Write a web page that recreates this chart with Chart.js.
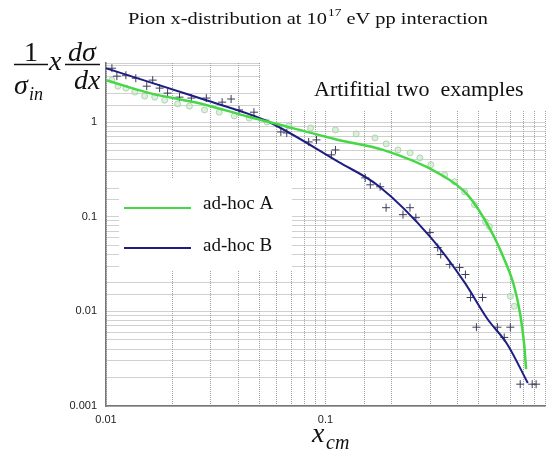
<!DOCTYPE html>
<html>
<head>
<meta charset="utf-8">
<script src="https://cdn.jsdelivr.net/npm/chart.js@4/dist/chart.umd.min.js"></script>
<style>
  html, body { margin: 0; padding: 0; background: #fff; }
  #chartContainer { width: 552px; height: 457px; }
</style>
</head>
<body>
<div id="chartContainer"><canvas id="main-chart" width="552" height="457"></canvas></div>
<script>
// fitted curves
const adhocAX = [0.01, 0.0158, 0.0266, 0.0449, 0.0553, 0.1145, 0.183, 0.325, 0.444, 0.5636, 0.6527, 0.724, 0.771, 0.8035, 0.82]
const adhocAY = [2.77, 2.02, 1.58, 1.13, 1.0, 0.646, 0.507, 0.29, 0.17, 0.073, 0.0353, 0.0183, 0.0093, 0.0045, 0.00245]
const adhocBX = [0.01, 0.0158, 0.0266, 0.0449, 0.0553, 0.1145, 0.174, 0.302, 0.43, 0.547, 0.673, 0.835]
const adhocBY = [3.70, 2.64, 1.79, 1.21, 1.0, 0.379, 0.212, 0.06, 0.0202, 0.0083, 0.0045, 0.00175]

// "data" points
const pointsAX = [0.01064, 0.01133, 0.01232, 0.01353, 0.0150, 0.01667, 0.0185, 0.0212, 0.0240, 0.0281, 0.0328, 0.0384, 0.0449, 0.0541, 0.068, 0.0855, 0.111, 0.138, 0.168, 0.189, 0.214, 0.243, 0.269, 0.302, 0.349, 0.387, 0.430, 0.477, 0.535, 0.558, 0.695, 0.724]
const pointsAY = [2.77, 2.39, 2.28, 2.07, 1.88, 1.83, 1.70, 1.55, 1.47, 1.34, 1.27, 1.16, 1.10, 1.0, 0.908, 0.865, 0.824, 0.748, 0.679, 0.587, 0.507, 0.472, 0.418, 0.353, 0.277, 0.234, 0.183, 0.134, 0.0886, 0.0785, 0.0144, 0.0113]
const pointsBX = [0.01064, 0.01121, 0.01232, 0.01367, 0.01533, 0.01632, 0.01755, 0.01908, 0.02162, 0.02449, 0.02864, 0.03381, 0.03715, 0.04038, 0.04721, 0.0626, 0.0666, 0.0838, 0.091, 0.111, 0.1064, 0.1517, 0.160, 0.1774, 0.1888, 0.2254, 0.2426, 0.258, 0.2987, 0.3245, 0.335, 0.368, 0.408, 0.434, 0.458, 0.519, 0.487, 0.607, 0.695, 0.652, 0.771, 0.874, 0.911]
const pointsBY = [3.70, 3.05, 3.12, 2.90, 2.39, 2.77, 2.28, 2.02, 1.83, 1.79, 1.79, 1.62, 1.75, 1.34, 1.27, 0.785, 0.766, 0.616, 0.647, 0.507, 0.450, 0.257, 0.217, 0.207, 0.1244, 0.105, 0.1244, 0.0976, 0.0679, 0.0472, 0.0398, 0.0313, 0.029, 0.0245, 0.014, 0.014, 0.0068, 0.0068, 0.0068, 0.0053, 0.0017, 0.0017, 0.0017]

const yTickLabels = ['0.001', '0.01', '0.1', '1']
const xTickLabels = ['0.01', '0.1']

const greenLine = 'rgb(70, 215, 70)'
const blueLine = 'rgb(30, 30, 130)'

function pairs(xs, ys) {
    return xs.map((x, i) => ({ x: x, y: ys[i] }))
}

function decadeLabel(v, list) {
    let lg = Math.log10(v)
    if (Math.abs(lg - Math.round(lg)) > 1e-6) return ''
    let s = list.find(t => Math.abs(parseFloat(t) - v) < v * 1e-6)
    return s || ''
}

// white boxes behind the legend and the note, then the extra text
const decorPlugin = {
    id: 'decor',
    beforeDatasetsDraw(chart) {
        const ctx = chart.ctx
        ctx.save()
        ctx.fillStyle = '#fff'
        ctx.fillRect(119, 178, 173, 92)
        ctx.fillRect(260, 58, 292, 52)
        ctx.restore()
    },
    afterDraw(chart) {
        const ctx = chart.ctx
        ctx.save()
        ctx.fillStyle = '#111'
        ctx.textBaseline = 'alphabetic'

        // title (stretched a bit, the original is a wide LaTeX font)
        ctx.save()
        ctx.translate(128, 24)
        ctx.scale(1.2, 1)
        ctx.font = '17px "Liberation Serif"'
        let t1 = 'Pion x-distribution at 10'
        let x = 0
        ctx.fillText(t1, x, 0)
        x += ctx.measureText(t1).width
        ctx.font = '11px "Liberation Serif"'
        ctx.fillText('17', x + 1, -8)
        x += ctx.measureText('17').width + 1
        ctx.font = '17px "Liberation Serif"'
        ctx.fillText(' eV pp interaction', x, 0)
        ctx.restore()

        // y axis formula
        ctx.textAlign = 'center'
        ctx.font = '28px "Liberation Serif"'
        ctx.fillText('1', 31, 61)
        ctx.lineWidth = 1.3
        ctx.strokeStyle = '#111'
        ctx.beginPath()
        ctx.moveTo(14, 64.5); ctx.lineTo(48, 64.5)
        ctx.moveTo(65, 64.5); ctx.lineTo(100, 64.5)
        ctx.stroke()
        ctx.textAlign = 'left'
        ctx.font = 'italic 28px "Liberation Serif"'
        ctx.fillText('σ', 14, 94)
        ctx.font = 'italic 18px "Liberation Serif"'
        ctx.fillText('in', 29, 100)
        ctx.font = 'italic 28px "Liberation Serif"'
        ctx.fillText('x', 49, 70)
        ctx.fillText('dσ', 68, 61)
        ctx.fillText('dx', 74, 89)

        // x axis title
        ctx.font = 'italic 28px "Liberation Serif"'
        ctx.fillText('x', 312, 442)
        ctx.font = 'italic 20px "Liberation Serif"'
        ctx.fillText('cm', 326, 449)

        // note
        ctx.font = '22px "Liberation Serif"'
        ctx.fillText('Artifitial two  examples', 314, 96)

        // legend
        ctx.lineWidth = 2
        ctx.strokeStyle = greenLine
        ctx.beginPath(); ctx.moveTo(124, 208); ctx.lineTo(191, 208); ctx.stroke()
        ctx.strokeStyle = blueLine
        ctx.beginPath(); ctx.moveTo(124, 248); ctx.lineTo(191, 248); ctx.stroke()
        ctx.font = '19px "Liberation Serif"'
        ctx.fillText('ad-hoc A', 203, 209)
        ctx.fillText('ad-hoc B', 203, 251)
        ctx.restore()
    }
}

const gridStyle = { color: '#a0a0a0', lineWidth: 1, drawTicks: false }
const borderStyle = { display: true, color: '#777', width: 1.5, dash: [1, 1] }

new Chart(document.getElementById('main-chart'), {
    type: 'scatter',
    data: {
        datasets: [
            {
                label: 'ad-hoc A',
                type: 'line',
                data: pairs(adhocAX, adhocAY),
                borderColor: greenLine,
                borderWidth: 2.5,
                pointRadius: 0,
                cubicInterpolationMode: 'monotone',
                fill: false,
                order: 0
            },
            {
                label: 'ad-hoc B',
                type: 'line',
                data: pairs(adhocBX, adhocBY),
                borderColor: blueLine,
                borderWidth: 2,
                pointRadius: 0,
                cubicInterpolationMode: 'monotone',
                fill: false,
                order: 0
            },
            {
                label: 'points A',
                data: pairs(pointsAX, pointsAY),
                pointStyle: 'circle',
                pointRadius: 3,
                borderWidth: 1,
                borderColor: 'rgba(160, 205, 160, 0.8)',
                backgroundColor: 'rgba(200, 230, 200, 0.6)',
                order: 1
            },
            {
                label: 'points B',
                data: pairs(pointsBX, pointsBY),
                pointStyle: 'cross',
                pointRadius: 4,
                borderWidth: 1,
                borderColor: 'rgb(60, 60, 90)',
                order: 1
            }
        ]
    },
    options: {
        responsive: false,
        animation: false,
        devicePixelRatio: 1,
        layout: { padding: { top: 63, right: 4, left: 0, bottom: 0 } },
        plugins: {
            legend: { display: false },
            title: { display: false },
            tooltip: { enabled: false }
        },
        scales: {
            x: {
                type: 'logarithmic',
                min: 0.01,
                max: 1,
                grid: gridStyle,
                border: borderStyle,
                afterFit: s => { s.height = 51 },
                ticks: {
                    autoSkip: false,
                    maxRotation: 0,
                    padding: 7,
                    color: '#222',
                    font: { family: '"Liberation Sans"', size: 11 },
                    callback: v => decadeLabel(v, xTickLabels)
                }
            },
            y: {
                type: 'logarithmic',
                min: 0.001,
                max: 4.2,
                grid: gridStyle,
                border: borderStyle,
                afterFit: s => { s.width = 106 },
                ticks: {
                    autoSkip: false,
                    padding: 9,
                    color: '#222',
                    font: { family: '"Liberation Sans"', size: 11 },
                    callback: v => decadeLabel(v, yTickLabels)
                }
            }
        }
    },
    plugins: [decorPlugin]
})
</script>
</body>
</html>
